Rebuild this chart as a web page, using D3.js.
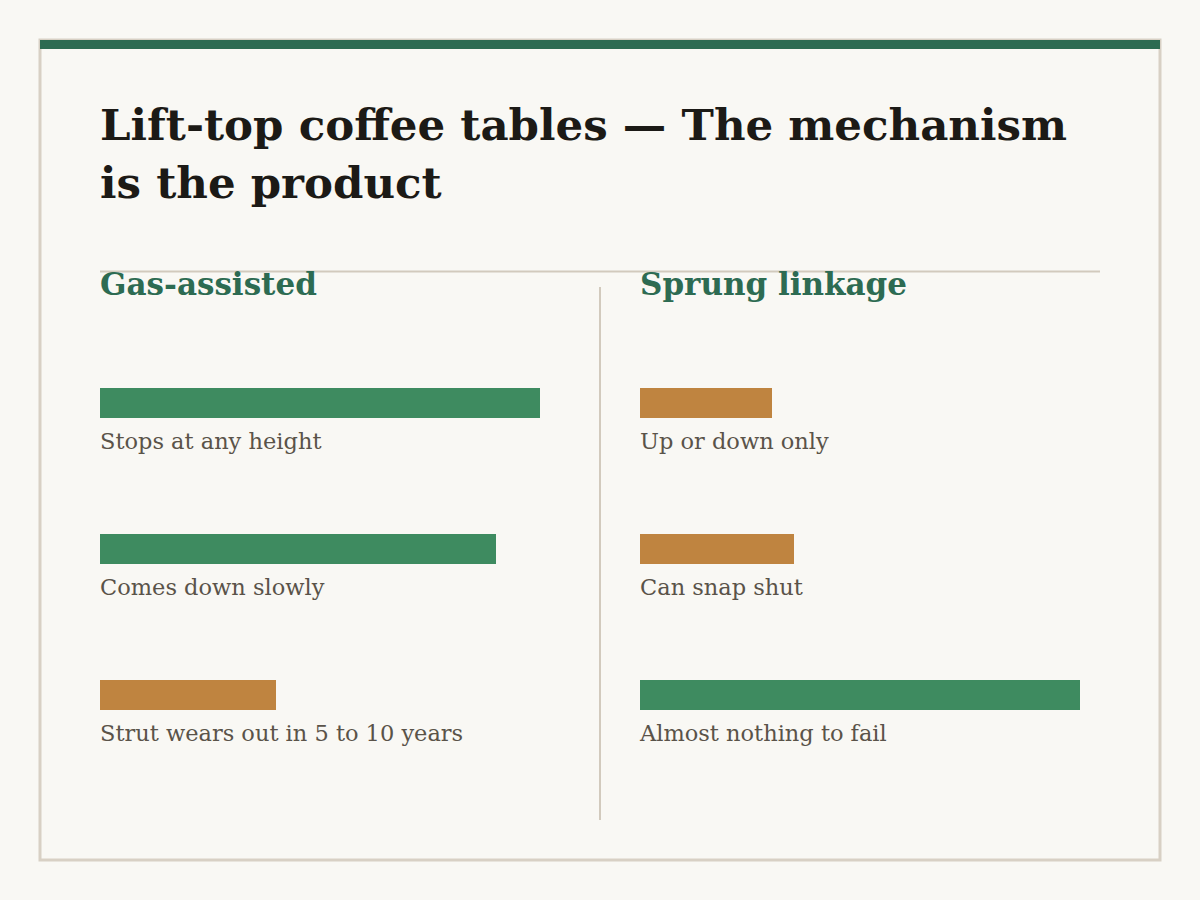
<!DOCTYPE html>
<html>
<head>
<meta charset="utf-8">
<script src="https://cdn.jsdelivr.net/npm/d3@7"></script>
<style>
  html, body { margin: 0; padding: 0; background: #f9f8f4; }
  svg { display: block; }
  text { font-family: "DejaVu Serif", Georgia, serif; }
</style>
</head>
<body>
<div id="chart-area"></div>
<script>
// chart values
var titleLines = ["Lift-top coffee tables \u2014 The mechanism", "is the product"];
var columns = ["Gas-assisted", "Sprung linkage"];
var gasLabels = ["Stops at any height", "Comes down slowly", "Strut wears out in 5 to 10 years"];
var gasScores = [100, 90, 40];
var gasGood = [true, true, false];
var sprungLabels = ["Up or down only", "Can snap shut", "Almost nothing to fail"];
var sprungScores = [30, 35, 100];
var sprungGood = [false, false, true];

var width = 1200, height = 900;
var green = "#3e8b60", orange = "#bf8440", dark = "#2d6b52";

var svg = d3.select("#chart-area").append("svg")
    .attr("width", width)
    .attr("height", height);

svg.append("rect")
    .attr("width", width).attr("height", height)
    .attr("fill", "#f9f8f4");

// card
svg.append("rect")
    .attr("x", 40).attr("y", 40)
    .attr("width", 1120).attr("height", 820)
    .attr("fill", "#f9f8f4")
    .attr("stroke", "#d8d0c4")
    .attr("stroke-width", 3);

svg.append("rect")
    .attr("x", 40).attr("y", 40)
    .attr("width", 1120).attr("height", 9)
    .attr("fill", dark);

// title
svg.append("g").selectAll("text")
  .data(titleLines)
  .enter().append("text")
    .attr("x", 100)
    .attr("y", function(d, i){ return 140 + i * 58; })
    .attr("font-size", "43.5px")
    .attr("font-weight", "bold")
    .attr("fill", "#1c1a16")
    .text(function(d){ return d; });

// dividers
svg.append("line")
    .attr("x1", 100).attr("x2", 1100)
    .attr("y1", 271.5).attr("y2", 271.5)
    .attr("stroke", "#d2cabd").attr("stroke-width", 2);

svg.append("line")
    .attr("x1", 600).attr("x2", 600)
    .attr("y1", 287).attr("y2", 820)
    .attr("stroke", "#d2cabd").attr("stroke-width", 2);

var x = d3.scaleLinear()
    .domain([0, 100])
    .range([0, 440]);

var y = d3.scaleBand()
    .domain([0, 1, 2])
    .range([388, 826])
    .paddingInner(0)
    .paddingOuter(0);

var panels = [
  {name: columns[0], labels: gasLabels, scores: gasScores, good: gasGood, left: 100},
  {name: columns[1], labels: sprungLabels, scores: sprungScores, good: sprungGood, left: 640}
];

panels.forEach(function(p){
  var g = svg.append("g")
      .attr("transform", "translate(" + p.left + ",0)");

  g.append("text")
      .attr("x", 0).attr("y", 295)
      .attr("font-size", "31px")
      .attr("font-weight", "bold")
      .attr("fill", dark)
      .text(p.name);

  var rows = p.scores.map(function(s, i){
    return {score: s, label: p.labels[i], good: p.good[i], i: i};
  });

  g.selectAll(".bar")
    .data(rows)
    .enter().append("rect")
      .attr("class", "bar")
      .attr("x", x(0))
      .attr("y", function(d){ return y(d.i); })
      .attr("width", function(d){ return x(d.score); })
      .attr("height", 30)
      .attr("fill", function(d){ return d.good ? green : orange; });

  g.selectAll(".lab")
    .data(rows)
    .enter().append("text")
      .attr("class", "lab")
      .attr("x", 0)
      .attr("y", function(d){ return y(d.i) + 61; })
      .attr("font-size", "22.5px")
      .attr("fill", "#5a5349")
      .text(function(d){ return d.label; });
});
</script>
</body>
</html>
